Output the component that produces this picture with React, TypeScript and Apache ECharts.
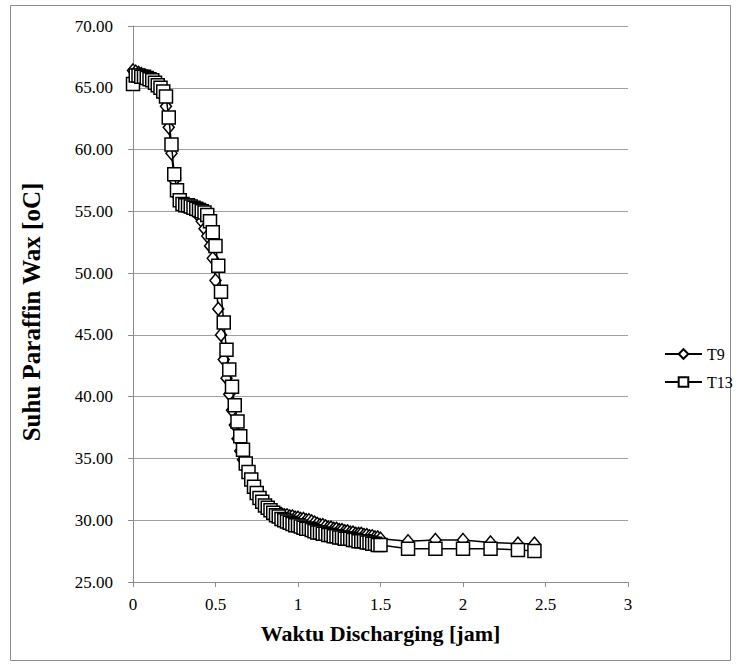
import React, { useEffect, useRef } from "react";
import * as echarts from "echarts";

// time in hours: 1-minute readings up to 1.5 h, then sparse readings
const minuteCount = 91;
const tailHours = [1.667, 1.833, 2.0, 2.167, 2.333, 2.433];

const t9Values = [
  66.4, 66.3, 66.2, 66.1, 66.0, 65.9, 65.8, 65.6, 65.4, 65.1,
  64.8, 64.3, 63.5, 61.8, 59.7, 57.5, 56.3, 55.7, 55.5, 55.4,
  55.3, 55.2, 55.1, 54.9, 54.6, 54.2, 53.6, 53.0, 52.2, 51.2,
  49.4, 47.1, 45.0, 43.0, 41.5, 40.2, 38.9, 37.7, 36.6, 35.6,
  34.9, 34.2, 33.6, 33.0, 32.5, 32.1, 31.8, 31.5, 31.3, 31.1,
  30.9, 30.8, 30.7, 30.6, 30.5, 30.4, 30.4, 30.3, 30.3, 30.2,
  30.2, 30.1, 30.1, 30.0, 30.0, 29.9, 29.8, 29.7, 29.6, 29.6,
  29.5, 29.4, 29.4, 29.3, 29.3, 29.2, 29.2, 29.1, 29.1, 29.0,
  29.0, 28.9, 28.9, 28.9, 28.8, 28.8, 28.7, 28.7, 28.6, 28.6,
  28.5,
  28.3, 28.4, 28.4, 28.2, 28.1, 28.1,
];

const t13Values = [
  65.3, 66.0, 66.0, 65.9, 65.9, 65.8, 65.7, 65.6, 65.4, 65.2,
  65.0, 64.7, 64.3, 62.6, 60.4, 58.0, 56.7, 55.9, 55.6, 55.5,
  55.5, 55.4, 55.3, 55.2, 55.1, 55.0, 54.9, 54.7, 54.2, 53.3,
  52.2, 50.6, 48.5, 46.0, 43.8, 42.2, 40.8, 39.3, 38.0, 36.8,
  35.7, 34.6, 33.9, 33.3, 32.7, 32.2, 31.8, 31.5, 31.2, 31.0,
  30.8, 30.6, 30.4, 30.3, 30.1, 30.0, 29.9, 29.8, 29.7, 29.6,
  29.6, 29.5, 29.4, 29.3, 29.3, 29.2, 29.1, 29.0, 29.0, 28.9,
  28.9, 28.8, 28.8, 28.7, 28.7, 28.6, 28.6, 28.5, 28.5, 28.5,
  28.4, 28.4, 28.3, 28.3, 28.3, 28.2, 28.2, 28.1, 28.1, 28.0,
  28.0,
  27.7, 27.7, 27.7, 27.7, 27.6, 27.5,
];

const hours: number[] = [];
for (let i = 0; i < minuteCount; i++) hours.push(i / 60);
tailHours.forEach((h) => hours.push(h));

const xTicks = ["0", "0.5", "1", "1.5", "2", "2.5", "3"];
const yTitle = "Suhu Paraffin Wax [oC]";
const xTitle = "Waktu Discharging [jam]";

const FONT = "Liberation Serif";

export default function App() {
  const ref = useRef<HTMLDivElement>(null);
  useEffect(() => {
    document.body.style.margin = "0";
    const chart = echarts.init(ref.current!, undefined, { renderer: "svg" });
    const pair = (vals: number[]) => vals.map((v, i) => [hours[i], v]);
    chart.setOption({
      animation: false,
      backgroundColor: "#ffffff",
      textStyle: { fontFamily: FONT },
      graphic: [
        {
          type: "rect",
          shape: { x: 10.5, y: 5.5, width: 720, height: 655 },
          style: { fill: "none", stroke: "#8c8c8c", lineWidth: 1 },
          silent: true,
        },
        {
          type: "text",
          x: 31,
          y: 312,
          rotation: Math.PI / 2,
          style: {
            text: yTitle,
            fontFamily: FONT,
            fontSize: 25,
            fontWeight: "bold",
            fill: "#000",
            align: "center",
            verticalAlign: "middle",
          },
          silent: true,
        },
      ],
      grid: { left: 133, right: 111, top: 26, bottom: 84 },
      legend: {
        orient: "vertical",
        left: 659,
        top: 341,
        itemWidth: 37,
        itemHeight: 12,
        itemGap: 12,
        textStyle: { fontFamily: FONT, fontSize: 16, color: "#000" },
        data: ["T9", "T13"],
      },
      xAxis: {
        type: "value",
        min: 0,
        max: 3,
        interval: 0.5,
        name: xTitle,
        nameLocation: "middle",
        nameGap: 40,
        nameTextStyle: { fontFamily: FONT, fontSize: 22, fontWeight: "bold", color: "#000" },
        axisLine: { lineStyle: { color: "#8c8c8c", width: 1 } },
        axisTick: { show: true, length: 5, lineStyle: { color: "#8c8c8c" } },
        axisLabel: {
          fontFamily: FONT,
          fontSize: 17,
          color: "#000",
          margin: 14,
          formatter: (v: number) => {
            const idx = Math.round(v / 0.5);
            return xTicks[idx] ?? String(v);
          },
        },
        splitLine: { show: false },
      },
      yAxis: {
        type: "value",
        min: 25,
        max: 70,
        interval: 5,
        axisLine: { show: true, lineStyle: { color: "#8c8c8c", width: 1 } },
        axisTick: { show: true, length: 5, lineStyle: { color: "#8c8c8c" } },
        axisLabel: {
          fontFamily: FONT,
          fontSize: 17,
          color: "#000",
          margin: 20,
          formatter: (v: number) => v.toFixed(2),
        },
        splitLine: { show: true, lineStyle: { color: "#a0a0a0", width: 1 } },
      },
      series: [
        {
          name: "T9",
          type: "line",
          data: pair(t9Values),
          symbol: "diamond",
          symbolSize: [11, 13],
          showAllSymbol: true,
          lineStyle: { color: "#000", width: 1.5 },
          itemStyle: { color: "#ffffff", borderColor: "#000", borderWidth: 1.5 },
          z: 2,
        },
        {
          name: "T13",
          type: "line",
          data: pair(t13Values),
          symbol: "rect",
          symbolSize: 13,
          showAllSymbol: true,
          lineStyle: { color: "#000", width: 1.5 },
          itemStyle: { color: "#ffffff", borderColor: "#000", borderWidth: 1.5 },
          z: 3,
        },
      ],
    });
    return () => chart.dispose();
  }, []);
  return <div ref={ref} style={{ width: 739, height: 666 }} />;
}
